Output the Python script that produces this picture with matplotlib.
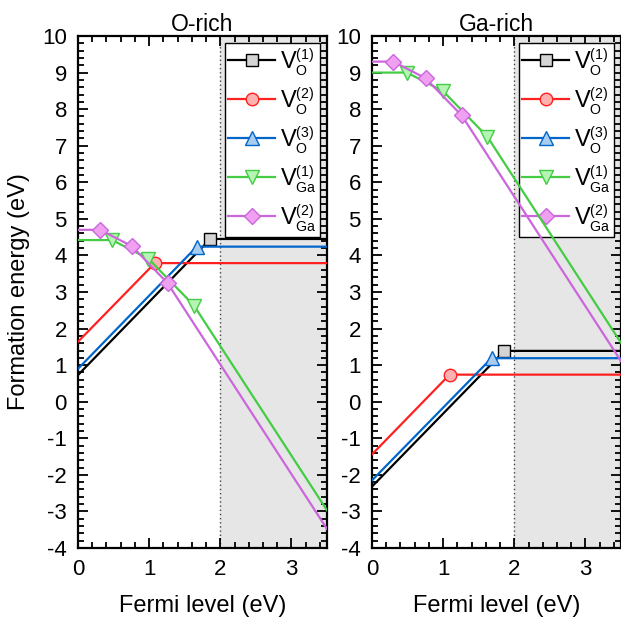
import matplotlib
matplotlib.use("Agg")
import matplotlib.pyplot as plt
from matplotlib.ticker import MultipleLocator
import matplotlib._mathtext as _mt

_mt.SHRINK_FACTOR = 0.6

plt.rcParams['font.family'] = ['Liberation Sans', 'DejaVu Sans']
plt.rcParams['mathtext.fontset'] = 'custom'
plt.rcParams['mathtext.rm'] = 'Liberation Sans'
plt.rcParams['mathtext.it'] = 'Liberation Sans:italic'
plt.rcParams['axes.unicode_minus'] = False

# ---------------- data ----------------
panel_titles = ["O-rich", "Ga-rich"]
labels = [r"$\mathrm{V}_{\mathrm{O}}^{(1)}$", r"$\mathrm{V}_{\mathrm{O}}^{(2)}$",
          r"$\mathrm{V}_{\mathrm{O}}^{(3)}$", r"$\mathrm{V}_{\mathrm{Ga}}^{(1)}$",
          r"$\mathrm{V}_{\mathrm{Ga}}^{(2)}$"]

# O-rich
orich_VO1_x = [0, 1.86, 3.5]
orich_VO1_y = [0.73, 4.45, 4.45]
orich_VO2_x = [0, 1.08, 3.5]
orich_VO2_y = [1.64, 3.79, 3.79]
orich_VO3_x = [0, 1.67, 3.5]
orich_VO3_y = [0.90, 4.24, 4.24]
orich_VGa1_x = [0, 0.48, 0.99, 1.63, 3.5]
orich_VGa1_y = [4.42, 4.42, 3.91, 2.63, -2.97]
orich_VGa2_x = [0, 0.31, 0.76, 1.26, 3.5]
orich_VGa2_y = [4.70, 4.70, 4.25, 3.24, -3.48]

# Ga-rich
garich_VO1_x = [0, 1.86, 3.5]
garich_VO1_y = [-2.32, 1.39, 1.39]
garich_VO2_x = [0, 1.09, 3.5]
garich_VO2_y = [-1.44, 0.74, 0.74]
garich_VO3_x = [0, 1.68, 3.5]
garich_VO3_y = [-2.15, 1.19, 1.19]
garich_VGa1_x = [0, 0.49, 1.0, 1.62, 3.5]
garich_VGa1_y = [9.0, 9.0, 8.49, 7.25, 1.61]
garich_VGa2_x = [0, 0.30, 0.755, 1.26, 3.5]
garich_VGa2_y = [9.3, 9.3, 8.84, 7.83, 1.11]

band_gap = 2.0
x_max = 3.5

panels = [
    [(orich_VO1_x, orich_VO1_y), (orich_VO2_x, orich_VO2_y), (orich_VO3_x, orich_VO3_y),
     (orich_VGa1_x, orich_VGa1_y), (orich_VGa2_x, orich_VGa2_y)],
    [(garich_VO1_x, garich_VO1_y), (garich_VO2_x, garich_VO2_y), (garich_VO3_x, garich_VO3_y),
     (garich_VGa1_x, garich_VGa1_y), (garich_VGa2_x, garich_VGa2_y)],
]

# ---------------- style ----------------
line_colors = ["#000000", "#ff2020", "#0066cc", "#44cc44", "#cc66dd"]
face_colors = ["#d4d4d4", "#ffb0b0", "#a8cdf0", "#b4f5b4", "#f0a0f0"]
edge_colors = ["#000000", "#ff2020", "#0066cc", "#44cc44", "#cc66dd"]
markers = ["s", "o", "^", "v", "D"]
msizes = [8, 9, 10, 10, 8]

fig = plt.figure(figsize=(6.21, 6.18), dpi=100)
ax_w = 249 / 621
ax_h = 512 / 618
ax_b = 70 / 618
axes = [fig.add_axes([78 / 621, ax_b, ax_w, ax_h]),
        fig.add_axes([372 / 621, ax_b, ax_w, ax_h])]

for p, ax in enumerate(axes):
    ax.axvspan(band_gap, x_max, color="#e6e6e6", zorder=0, lw=0)
    ax.axvline(band_gap, color="#444444", ls=(0, (1, 2)), lw=1, zorder=1)
    handles = []
    for i, (xs, ys) in enumerate(panels[p]):
        h, = ax.plot(xs, ys, color=line_colors[i], lw=1.6, marker=markers[i],
                     markevery=list(range(1, len(xs) - 1)), ms=msizes[i],
                     mfc=face_colors[i], mec=edge_colors[i], mew=1.0,
                     label=labels[i], zorder=3 + i, clip_on=True)
        handles.append(h)
    ax.set_xlim(0, x_max)
    ax.set_ylim(-4, 10)
    ax.xaxis.set_major_locator(MultipleLocator(1))
    ax.xaxis.set_minor_locator(MultipleLocator(0.2))
    ax.yaxis.set_major_locator(MultipleLocator(1))
    ax.yaxis.set_minor_locator(MultipleLocator(0.2))
    ax.tick_params(which="both", direction="in", top=True, right=True, width=1.3)
    ax.tick_params(which="major", length=7, labelsize=16)
    ax.tick_params(axis="y", which="major", pad=8)
    ax.tick_params(axis="x", which="major", pad=8)
    ax.tick_params(which="minor", length=4)
    for s in ax.spines.values():
        s.set_linewidth(1.6)
    ax.set_title(panel_titles[p], fontsize=16.5, pad=3)
    ax.set_xlabel("Fermi level (eV)", fontsize=17, labelpad=11)
    leg = ax.legend(handles=handles, loc="upper right", fontsize=17,
                    frameon=True, fancybox=False, framealpha=1, edgecolor="black",
                    handlelength=2.0, handletextpad=0.2, borderpad=0.12,
                    labelspacing=0.3, borderaxespad=0.3, markerscale=1.0)
    leg.get_frame().set_linewidth(1.0)

axes[0].set_ylabel("Formation energy (eV)", fontsize=17, labelpad=9)

fig.savefig("out.png", dpi=100)
